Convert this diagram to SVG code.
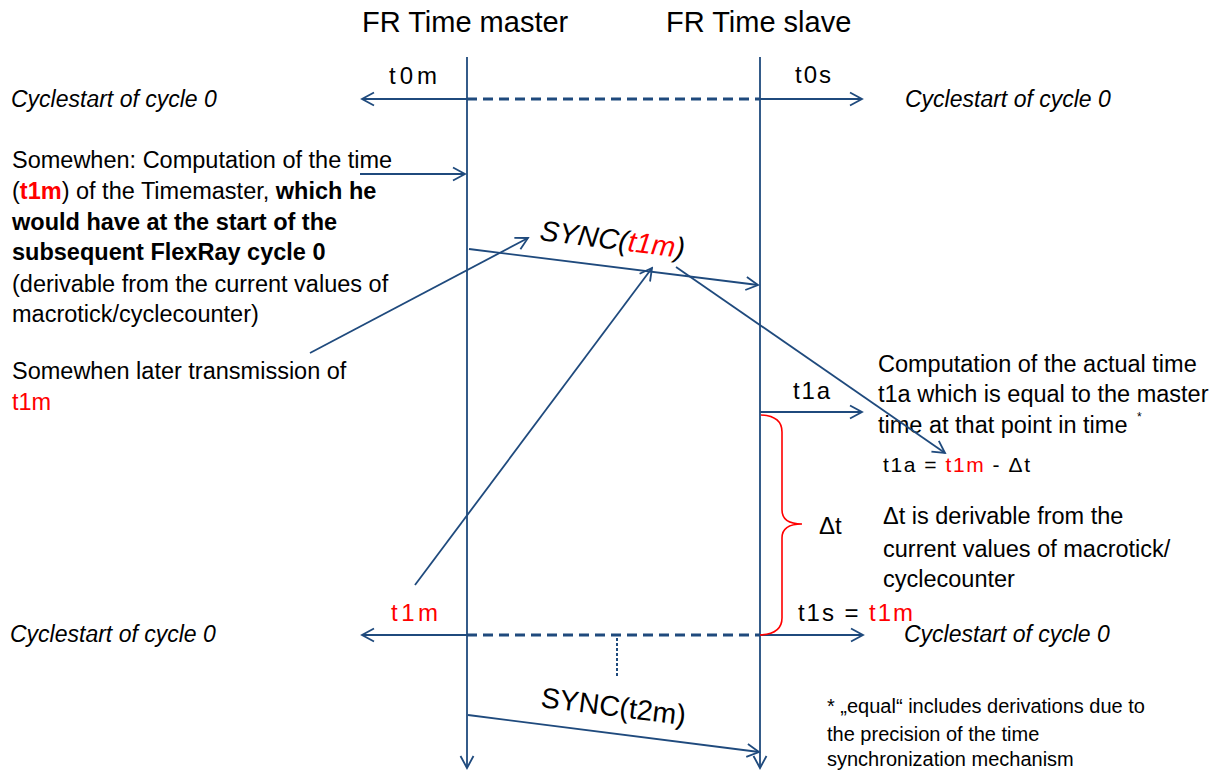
<svg xmlns="http://www.w3.org/2000/svg" width="1224" height="774" viewBox="0 0 1224 774">
<defs>
<marker id="ah" markerUnits="userSpaceOnUse" markerWidth="16" markerHeight="16" viewBox="0 0 16 16" refX="14" refY="8" orient="auto">
<path d="M2,1.5 L14,8 L2,14.5" fill="none" stroke="#1F4A7D" stroke-width="1.8"/>
</marker>
</defs>
<style>
text{font-family:"Liberation Sans",Arial,sans-serif;fill:#000}
.hd{font-size:29px}
.b{font-size:23.5px}
.bd{font-weight:bold}
.it{font-style:italic;font-size:23px}
.red{fill:#FF0000}
.lbl{font-size:24px}
.fn{font-size:20px}
.ln{stroke:#1F4A7D;stroke-width:1.8;fill:none}
.arr{stroke:#1F4A7D;stroke-width:1.8;fill:none;marker-end:url(#ah)}
.dash{stroke:#1F4A7D;stroke-width:3;stroke-dasharray:10 6;fill:none}
</style>
<rect width="1224" height="774" fill="#fff"/>

<g id="master">
<text class="hd" x="362" y="32">FR Time master</text>
<line class="arr" x1="467" y1="57" x2="467" y2="768"/>
</g>
<g id="slave">
<text class="hd" x="666" y="32">FR Time slave</text>
<line class="arr" x1="760" y1="57" x2="760" y2="768"/>
</g>

<g id="top-cycle">
<text class="lbl" x="389" y="84" textLength="48" lengthAdjust="spacing">t0m</text>
<text class="lbl" x="795" y="83" textLength="36" lengthAdjust="spacing">t0s</text>
<text class="it" x="11" y="107">Cyclestart of cycle 0</text>
<text class="it" x="905" y="107">Cyclestart of cycle 0</text>
</g>

<g id="left-text">
<text class="b" x="12" y="168">Somewhen: Computation of the time</text>
<text class="b" x="12" y="199">(<tspan class="bd red">t1m</tspan>) of the Timemaster, <tspan class="bd">which he</tspan></text>
<text class="b bd" x="12" y="230">would have at the start of the</text>
<text class="b bd" x="12" y="260">subsequent FlexRay cycle 0</text>
<text class="b" x="12" y="292">(derivable from the current values of</text>
<text class="b" x="12" y="322">macrotick/cyclecounter)</text>
<text class="b" x="12" y="379">Somewhen later transmission of</text>
<text class="b red" x="12" y="410">t1m</text>
</g>

<g id="sync1">
<text transform="translate(539,240) rotate(7.1)" x="0" y="0" font-size="28.5" font-style="italic">SYNC(<tspan class="red">t1m</tspan>)</text>
</g>

<g id="right-text">
<text class="b" x="878" y="372">Computation of the actual time</text>
<text class="b" x="878" y="402">t1a which is equal to the master</text>
<text class="b" x="878" y="433">time at that point in time</text>
<text x="1137" y="421" font-size="12">*</text>
<text x="883" y="472" font-size="21" textLength="147" lengthAdjust="spacing">t1a = <tspan class="red">t1m</tspan> - Δt</text>
<text class="b" x="883" y="524">Δt is derivable from the</text>
<text class="b" x="883" y="557">current values of macrotick/</text>
<text class="b" x="883" y="587">cyclecounter</text>
<text class="lbl" x="793" y="399" textLength="37" lengthAdjust="spacing">t1a</text>
<text font-size="24" x="819" y="534">Δt</text>
<text class="lbl" x="798" y="621" textLength="115" lengthAdjust="spacing">t1s = <tspan class="red">t1m</tspan></text>
</g>

<g id="bottom-cycle">
<text class="lbl red" x="391" y="621" textLength="47" lengthAdjust="spacing">t1m</text>
<text class="it" x="10" y="642">Cyclestart of cycle 0</text>
<text class="it" x="904" y="642">Cyclestart of cycle 0</text>
</g>

<g id="sync2">
<text transform="translate(540,707) rotate(7.1)" x="0" y="0" font-size="28.5">SYNC(t2m)</text>
</g>

<g id="footnote">
<text class="fn" x="827" y="713">* „equal“ includes derivations due to</text>
<text class="fn" x="827" y="741">the precision of the time</text>
<text class="fn" x="827" y="766">synchronization mechanism</text>
</g>

<g id="connectors">
<line class="arr" x1="467" y1="99" x2="362" y2="99"/>
<line class="dash" x1="467" y1="99" x2="760" y2="99"/>
<line class="arr" x1="760" y1="99" x2="862" y2="99"/>
<line class="arr" x1="467" y1="635" x2="362" y2="635"/>
<line class="dash" x1="467" y1="635" x2="760" y2="635"/>
<line class="arr" x1="760" y1="635" x2="863" y2="635"/>
<line x1="617" y1="638" x2="617" y2="678" stroke="#1F4A7D" stroke-width="2" stroke-dasharray="3 2"/>
<line class="arr" x1="360" y1="174" x2="465" y2="174"/>
<line class="arr" x1="469" y1="249" x2="758" y2="285"/>
<line class="arr" x1="310" y1="353" x2="528" y2="238"/>
<line class="arr" x1="415" y1="585" x2="652" y2="268"/>
<line class="arr" x1="676" y1="267" x2="945" y2="453"/>
<line class="arr" x1="760" y1="412" x2="862" y2="412"/>
<line class="arr" x1="468" y1="715" x2="759" y2="752"/>
<path d="M761,415 Q782,416 782,432 L782,510 Q782,524 802,524 Q782,524 782,538 L782,618 Q782,634 760,635" fill="none" stroke="#FF0000" stroke-width="1.6"/>
</g>
</svg>
